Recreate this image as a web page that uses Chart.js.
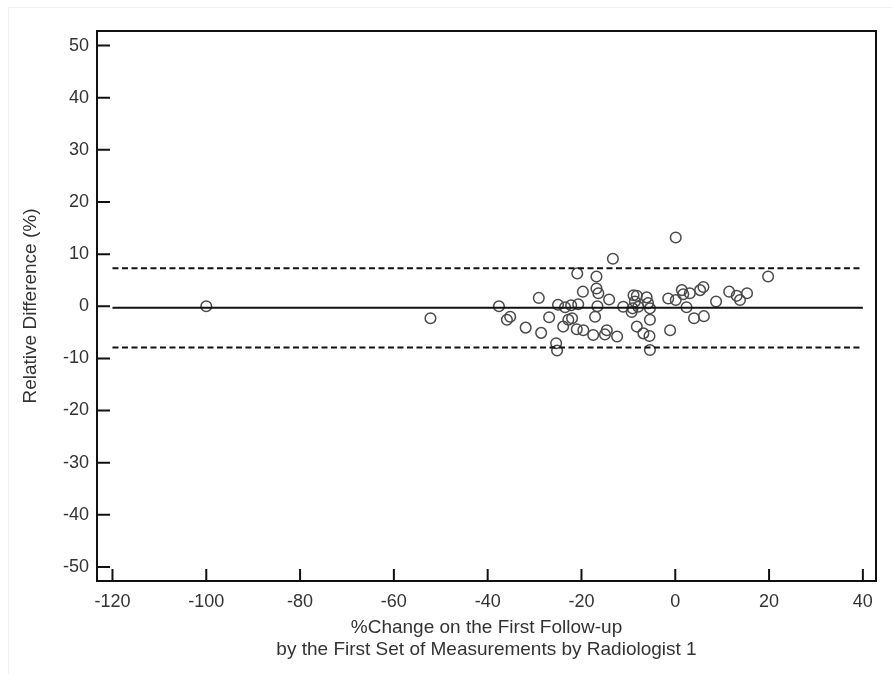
<!DOCTYPE html>
<html>
<head>
<meta charset="utf-8">
<script src="https://cdn.jsdelivr.net/npm/chart.js@4"></script>
<style>
  html, body { margin: 0; padding: 0; background: #fff; }
  #wrap { width: 892px; height: 674px; position: relative; }
  #edge { position: absolute; left: 8px; top: 7px; right: 0; bottom: 0;
    border-left: 1px solid #f1f1f1; border-top: 1px solid #f1f1f1; }
  canvas { position: absolute; left: 0; top: 0; }
</style>
</head>
<body>
<div id="wrap"><div id="edge"></div><canvas id="myChart" width="892" height="674"></canvas></div>
<script>
// %change on first follow-up (x) vs relative difference % (y)
const changeX = [-100, -52.2, -37.6, -35.2, -35.9, -31.9, -29.1, -28.6, -26.9, -25.0,
  -25.4, -25.2, -23.5, -22.2, -20.7, -22.8, -22.0, -23.9, -21.0, -19.6,
  -17.5, -19.7, -20.9, -16.8, -16.8, -16.4, -16.6, -17.1, -14.1, -13.3,
  -14.6, -15.0, -12.4, -11.1, -8.9, -8.2, -8.6, -9.1, -9.3, -7.9,
  -6.1, -5.8, -5.4, -5.4, -8.2, -6.8, -5.5, -5.4, -1.5, 0.1,
  1.4, 1.7, 3.1, 2.4, 4.0, 5.3, 6.0, 6.1, -1.1, 0.1,
  19.8, 11.5, 13.1, 13.8, 15.3, 8.7];
const relDiff = [0.0, -2.3, 0.0, -2.0, -2.6, -4.1, 1.6, -5.1, -2.1, 0.3,
  -7.1, -8.5, -0.2, 0.2, 0.4, -2.6, -2.3, -3.9, -4.4, -4.6,
  -5.5, 2.8, 6.3, 5.7, 3.4, 2.5, 0.0, -2.0, 1.3, 9.1,
  -4.6, -5.4, -5.8, -0.1, 2.1, 2.0, 0.9, -0.4, -1.1, -0.1,
  1.7, 0.6, -0.4, -2.6, -3.9, -5.2, -5.7, -8.4, 1.5, 1.2,
  3.1, 2.3, 2.5, -0.2, -2.3, 3.1, 3.7, -1.9, -4.6, 13.2,
  5.7, 2.8, 2.0, 1.2, 2.5, 0.9];

const meanDiff = -0.3;
const upperLoA = 7.3;
const lowerLoA = -7.9;
const lineRange = [-120, 40];

const xTicks = [-120, -100, -80, -60, -40, -20, 0, 20, 40];
const yTicks = [50, 40, 30, 20, 10, 0, -10, -20, -30, -40, -50];

const points = changeX.map((x, i) => ({ x: x, y: relDiff[i] }));
const hLine = (v) => lineRange.map((x) => ({ x: x, y: v }));

const font = "'Liberation Sans', Arial, sans-serif";

// box round the plot and inward tick marks
const frame = {
  id: "frame",
  afterDraw(chart) {
    const { ctx, chartArea: a, scales } = chart;
    ctx.save();
    ctx.strokeStyle = "#111";
    ctx.lineWidth = 2;
    ctx.strokeRect(a.left, a.top, a.right - a.left, a.bottom - a.top);
    ctx.beginPath();
    xTicks.forEach((v) => {
      const px = scales.x.getPixelForValue(v);
      ctx.moveTo(px, a.bottom);
      ctx.lineTo(px, a.bottom - 12);
    });
    yTicks.forEach((v) => {
      const py = scales.y.getPixelForValue(v);
      ctx.moveTo(a.left, py);
      ctx.lineTo(a.left + 13, py);
    });
    ctx.stroke();
    ctx.restore();
  },
};

const ctx = document.getElementById("myChart");

new Chart(ctx, {
  type: "scatter",
  data: {
    datasets: [
      {
        label: "mean",
        type: "line",
        data: hLine(meanDiff),
        borderColor: "#111",
        borderWidth: 2,
        pointRadius: 0,
      },
      {
        label: "upper",
        type: "line",
        data: hLine(upperLoA),
        borderColor: "#111",
        borderWidth: 2,
        borderDash: [6, 3.5],
        pointRadius: 0,
      },
      {
        label: "lower",
        type: "line",
        data: hLine(lowerLoA),
        borderColor: "#111",
        borderWidth: 2,
        borderDash: [6, 3.5],
        pointRadius: 0,
      },
      {
        label: "cases",
        data: points,
        pointRadius: 5.3,
        pointBorderWidth: 1.5,
        borderColor: "#4a4a4a",
        backgroundColor: "rgba(255,255,255,0)",
      },
    ],
  },
  options: {
    responsive: false,
    animation: false,
    layout: { padding: { left: 0, top: 31, right: 16, bottom: 0 } },
    plugins: {
      legend: { display: false },
      tooltip: { enabled: false },
    },
    scales: {
      x: {
        type: "linear",
        min: -123.3,
        max: 42.8,
        afterBuildTicks: (s) => { s.ticks = xTicks.map((v) => ({ value: v })); },
        afterFit: (s) => { s.height = 93; },
        grid: { display: false, drawTicks: false },
        border: { display: false },
        ticks: { color: "#333", font: { family: font, size: 18 }, padding: 10, maxRotation: 0 },
        title: {
          display: true,
          text: ["%Change on the First Follow-up", "by the First Set of Measurements by Radiologist 1"],
          color: "#333",
          font: { family: font, size: 19, lineHeight: 1.16 },
          padding: { top: 0, bottom: 13 },
        },
      },
      y: {
        type: "linear",
        min: -52.7,
        max: 52.8,
        afterBuildTicks: (s) => { s.ticks = yTicks.map((v) => ({ value: v })); },
        afterFit: (s) => { s.width = 97; },
        grid: { display: false, drawTicks: false },
        border: { display: false },
        ticks: { color: "#333", font: { family: font, size: 18 }, padding: 8 },
        title: {
          display: true,
          text: "Relative Difference (%)",
          color: "#333",
          font: { family: font, size: 19, lineHeight: 1.2 },
          padding: { top: 19, bottom: 0 },
        },
      },
    },
  },
  plugins: [frame],
});
</script>
</body>
</html>
